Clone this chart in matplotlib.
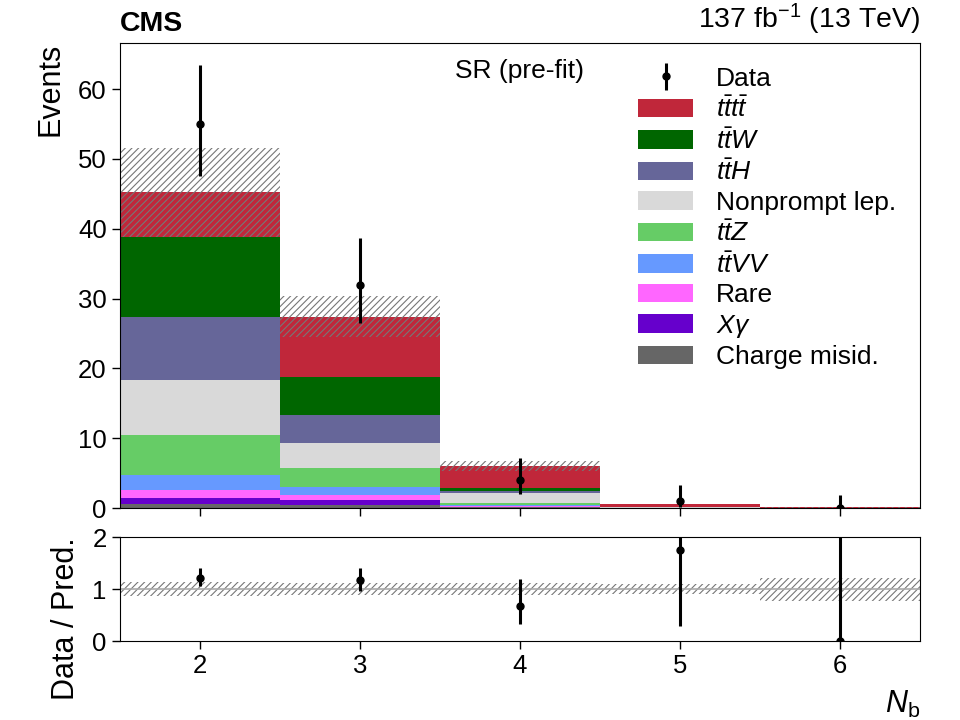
import numpy as np
import matplotlib
matplotlib.use('Agg')
import matplotlib.pyplot as plt
from matplotlib.patches import Patch

plt.rcParams['font.family'] = ['Liberation Sans', 'DejaVu Sans']
plt.rcParams['mathtext.fontset'] = 'custom'
plt.rcParams['mathtext.rm'] = 'Liberation Sans'
plt.rcParams['mathtext.it'] = 'Liberation Sans:italic'
plt.rcParams['mathtext.bf'] = 'Liberation Sans:bold'
plt.rcParams['hatch.color'] = '#777777'
plt.rcParams['hatch.linewidth'] = 0.8

# N_b bins
bins = [2, 3, 4, 5, 6]

# stacked backgrounds, bottom to top
labels = ['Charge misid.', r'$X\gamma$', 'Rare', r'$t\bar{t}VV$', r'$t\bar{t}Z$',
          'Nonprompt lep.', r'$t\bar{t}H$', r'$t\bar{t}W$', r'$t\bar{t}t\bar{t}$']
colors = ['#666666', '#6600cc', '#ff66ff', '#6699ff', '#66cc66',
          '#d9d9d9', '#666699', '#006600', '#c0273a']
charge = [0.57, 0.43, 0.10, 0.01, 0.0]
xgamma = [0.90, 0.72, 0.10, 0.01, 0.0]
rare = [1.10, 0.71, 0.10, 0.01, 0.0]
ttvv = [2.15, 1.10, 0.13, 0.02, 0.01]
ttz = [5.70, 2.82, 0.24, 0.02, 0.01]
nonprompt = [7.90, 3.58, 1.43, 0.02, 0.01]
tth = [9.00, 3.94, 0.33, 0.02, 0.01]
ttw = [11.5, 5.50, 0.48, 0.02, 0.01]
tttt = [6.40, 8.60, 3.05, 0.44, 0.04]
unc = [6.4, 2.95, 0.72, 0.056, 0.02]

data = [55, 32, 4, 1, 0]
data_lo = [7.5, 5.5, 2.0, 0.83, 0.0]
data_hi = [8.5, 6.7, 3.1, 2.3, 1.84]

comps = [charge, xgamma, rare, ttvv, ttz, nonprompt, tth, ttw, tttt]

fig = plt.figure(figsize=(9.6, 7.2), dpi=100)
ax = fig.add_axes([0.125, 0.2944, 0.833, 0.646])
rax = fig.add_axes([0.125, 0.1097, 0.833, 0.1443])

x = np.array(bins)
bottom = np.zeros(len(bins))
for vals, c in zip(comps, colors):
    vals = np.array(vals)
    ax.bar(x, vals, width=1.0, bottom=bottom, color=c, edgecolor='none')
    bottom += vals
total = bottom

unc = np.array(unc)
ax.bar(x, 2 * unc, width=1.0, bottom=total - unc, color='none',
       edgecolor='#777777', hatch='/////', linewidth=0)

ax.errorbar(x, data, yerr=[data_lo, data_hi], fmt='o', color='black',
            markersize=5, elinewidth=2.2, capsize=0, label='Data')

ax.set_xlim(1.5, 6.5)
ax.set_ylim(0, 66.6)
ax.set_yticks([0, 10, 20, 30, 40, 50, 60])
ax.set_xticks(bins)
ax.tick_params(axis='x', labelbottom=False)
ax.tick_params(labelsize=18.5, length=6, width=1)
ax.set_ylabel('Events', fontsize=22, loc='top', labelpad=9)

ax.text(0.0, 1.012, 'CMS', transform=ax.transAxes, fontsize=20.5,
        fontweight='bold', ha='left', va='bottom')
ax.text(1.0, 1.012, r'137 fb$^{-1}$ (13 TeV)', transform=ax.transAxes,
        fontsize=20.5, ha='right', va='bottom')
ax.text(0.5, 0.94, 'SR (pre-fit)', transform=ax.transAxes, fontsize=19,
        ha='center', va='center')

handles, hl = ax.get_legend_handles_labels()
for lab, c in list(zip(labels, colors))[::-1]:
    handles.append(Patch(facecolor=c, edgecolor='none'))
    hl.append(lab)
ax.legend(handles, hl, loc='upper right', bbox_to_anchor=(1.0, 1.0),
          frameon=False, fontsize=19, handlelength=2.1, handleheight=0.7,
          labelspacing=0.21, handletextpad=0.85)

# ratio panel
ratio = np.array(data) / total
rel = unc / total
rax.bar(x, 2 * rel, width=1.0, bottom=1 - rel, color='none',
        edgecolor='#777777', hatch='/////', linewidth=0)
rax.axhline(1.0, color='#aaaaaa', linewidth=1.2)
rax.errorbar(x, ratio, yerr=[np.array(data_lo) / total, np.array(data_hi) / total],
             fmt='o', color='black', markersize=5, elinewidth=2.2, capsize=0,
             clip_on=True)
rax.set_xlim(1.5, 6.5)
rax.set_ylim(0, 2)
rax.set_yticks([0, 1, 2])
rax.set_xticks(bins)
rax.tick_params(labelsize=18.5, length=6, width=1)
rax.set_ylabel('Data / Pred.', fontsize=22, loc='top', labelpad=8)
rax.set_xlabel(r'$N_\mathrm{b}$', fontsize=22, loc='right', labelpad=8)

fig.savefig('out.png', dpi=100)
